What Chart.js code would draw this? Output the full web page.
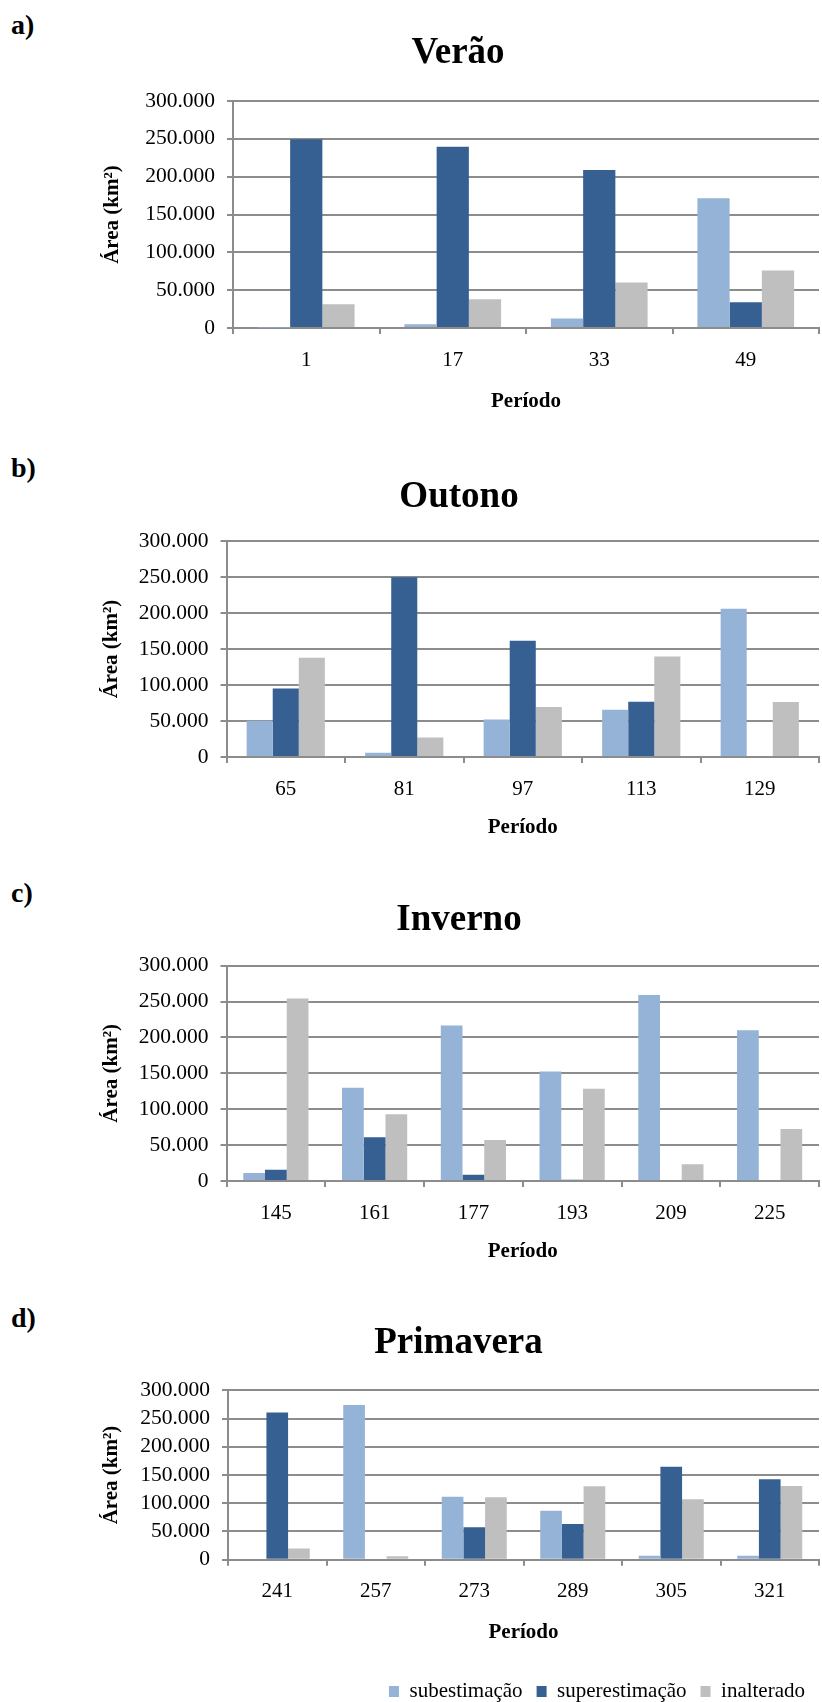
<!DOCTYPE html>
<html>
<head>
<meta charset="utf-8">
<script src="https://cdn.jsdelivr.net/npm/chart.js@4.4.1/dist/chart.umd.min.js"></script>
<style>
  html, body { margin: 0; padding: 0; background: #fff; width: 822px; height: 1702px; overflow: hidden; }
  canvas { position: absolute; left: 0; }
  .tag { position: absolute; left: 11px; font: bold 28px "Liberation Serif", "Times New Roman", serif; line-height: 28px; color: #000; }
</style>
</head>
<body>
<div class="tag" style="top:11px">a)</div>
<div class="tag" style="top:454px">b)</div>
<div class="tag" style="top:879px">c)</div>
<div class="tag" style="top:1304px">d)</div>

<canvas id="chartVerao" width="822" height="405" style="top:20px"></canvas>
<canvas id="chartOutono" width="822" height="390" style="top:464px"></canvas>
<canvas id="chartInverno" width="822" height="391" style="top:887px"></canvas>
<canvas id="chartPrimavera" width="822" height="402" style="top:1310px"></canvas>

<script>
// series and tick data (km²)
const seriesNames = ['subestimação', 'superestimação', 'inalterado'];
const seriesColors = ['#95b3d7', '#376092', '#bfbfbf'];
const yTickValues = [0, 50000, 100000, 150000, 200000, 250000, 300000];

const veraoLabels = ['1', '17', '33', '49'];
const veraoSub = [800, 5000, 12400, 171600];
const veraoSup = [249500, 239500, 208700, 34000];
const veraoInal = [31300, 37900, 60000, 75900];

const outonoLabels = ['65', '81', '97', '113', '129'];
const outonoSub = [50200, 6000, 52000, 65600, 206000];
const outonoSup = [95300, 249800, 161400, 76700, 0];
const outonoInal = [137700, 27000, 69300, 139500, 76300];

const invernoLabels = ['145', '161', '177', '193', '209', '225'];
const invernoSub = [11200, 129800, 216700, 152600, 259000, 210200];
const invernoSup = [15800, 60900, 8800, 1900, 0, 0];
const invernoInal = [254400, 93000, 57000, 128600, 23300, 72600];

const primaveraLabels = ['241', '257', '273', '289', '305', '321'];
const primaveraSub = [0, 274000, 111600, 86800, 7100, 7100];
const primaveraSup = [260500, 0, 57300, 63200, 164800, 142400];
const primaveraInal = [20000, 5900, 110500, 130000, 106900, 130500];

Chart.defaults.font.family = '"Liberation Serif", "Times New Roman", serif';
Chart.defaults.color = '#000';

const gridGray = '#8c8c8c';

function fmt(v) {
    return String(v).replace(/\B(?=(\d{3})+(?!\d))/g, '.');
}

function drawChart(id, title, labels, sub, sup, inal, box, showLegend) {
    const sets = [sub, sup, inal].map((d, i) => ({
        label: seriesNames[i],
        data: d,
        backgroundColor: seriesColors[i],
        borderWidth: 0,
        categoryPercentage: 0.66,
        barPercentage: 1
    }));

    new Chart(document.getElementById(id), {
        type: 'bar',
        data: { labels: labels, datasets: sets },
        options: {
            responsive: false,
            animation: false,
            layout: { padding: { left: box.padLeft, right: 3, top: 0, bottom: 0 } },
            plugins: {
                title: {
                    display: true,
                    text: title,
                    color: '#000',
                    font: { size: 37, weight: 'bold' },
                    padding: { top: 10.8, bottom: box.titleGap }
                },
                legend: showLegend ? {
                    display: true,
                    position: 'bottom',
                    align: 'end',
                    labels: { font: { size: 21 }, color: '#000', boxWidth: 10, boxHeight: 11, padding: 14 }
                } : { display: false },
                tooltip: { enabled: false }
            },
            scales: {
                x: {
                    grid: { display: true, drawOnChartArea: false, drawTicks: true, tickLength: 6, color: gridGray, lineWidth: 2, offset: true },
                    border: { display: true, color: gridGray, width: 2 },
                    ticks: { font: { size: 21 }, color: '#000', padding: 13.4, maxRotation: 0, autoSkip: false },
                    title: { display: true, text: 'Período', font: { size: 21, weight: 'bold' }, color: '#000', padding: { top: 0, bottom: box.xTitlePad } },
                    afterFit: s => { s.height = box.xHeight; }
                },
                y: {
                    min: 0,
                    max: 300000,
                    afterBuildTicks: s => { s.ticks = yTickValues.map(v => ({ value: v })); },
                    grid: { color: gridGray, lineWidth: 2, drawTicks: true, tickLength: 6 },
                    border: { display: true, color: gridGray, width: 2 },
                    ticks: { font: { size: 21.5 }, color: '#000', padding: 12, autoSkip: false, callback: v => fmt(v) },
                    title: { display: true, text: 'Área (km²)', font: { size: 21, weight: 'bold' }, color: '#000', padding: { top: box.yTitlePad, bottom: 0 } },
                    afterFit: s => { s.width = box.yWidth; }
                }
            }
        }
    });
}

drawChart('chartVerao', 'Verão', veraoLabels, veraoSub, veraoSup, veraoInal,
    { padLeft: 97, yWidth: 136, titleGap: 25.8, xHeight: 97, xTitlePad: 10.4, yTitlePad: 3.4 }, false);
drawChart('chartOutono', 'Outono', outonoLabels, outonoSub, outonoSup, outonoInal,
    { padLeft: 99, yWidth: 127.5, titleGap: 21.8, xHeight: 97, xTitlePad: 13.4, yTitlePad: 0.1 }, false);
drawChart('chartInverno', 'Inverno', invernoLabels, invernoSub, invernoSup, invernoInal,
    { padLeft: 99, yWidth: 127.5, titleGap: 23.5, xHeight: 97, xTitlePad: 13.4, yTitlePad: 0.1 }, false);
drawChart('chartPrimavera', 'Primavera', primaveraLabels, primaveraSub, primaveraSup, primaveraInal,
    { padLeft: 98, yWidth: 130, titleGap: 25.1, xHeight: 107.3, xTitlePad: 21.7, yTitlePad: 1.1 }, true);
</script>
</body>
</html>
